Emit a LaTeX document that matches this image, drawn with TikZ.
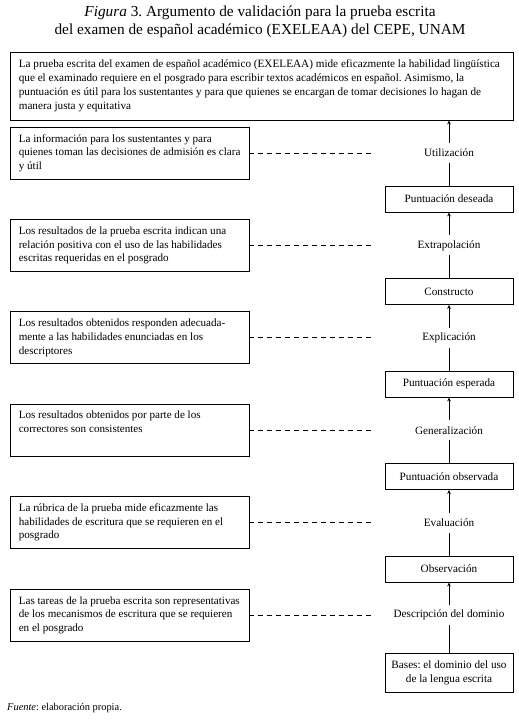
\documentclass[tikz,border=0pt]{standalone}
\usepackage{fontspec}
\setmainfont{Liberation Serif}
\usetikzlibrary{arrows.meta}
\frenchspacing
\tikzset{
  lbox/.style={draw, line width=0.8pt, minimum width=239pt, minimum height=52pt, inner sep=0pt},
  ltext/.style={anchor=west, inner sep=0pt, align=left, font=\fontsize{11.1}{13.6}\selectfont},
  rbox/.style={draw, line width=0.8pt, minimum width=128pt, minimum height=26pt, inner sep=0pt, align=center, font=\fontsize{11.2}{14}\selectfont},
  slabel/.style={fill=white, inner xsep=2pt, inner ysep=0pt, minimum height=20pt, font=\fontsize{11.2}{13}\selectfont},
  arr/.style={line width=0.8pt, -{Stealth[length=4pt,width=3.6pt]}},
  dline/.style={line width=0.8pt, dash pattern=on 5pt off 4pt}
}
\begin{document}
\begin{tikzpicture}[x=1pt,y=-1pt]
\useasboundingbox (0,0) rectangle (519,721);
% title
\node[align=center, font=\fontsize{15.3}{17.5}\selectfont] (title) at (260,22)
  {\textit{Figura} 3. Argumento de validación para la prueba escrita\\del examen de español académico (EXELEAA) del CEPE, UNAM};
% top box
\node[draw, line width=0.8pt, minimum width=503pt, minimum height=68pt, inner sep=0pt] (top) at (261.5,86) {};
\node[ltext, font=\fontsize{11.2}{14}\selectfont] (toptext) at ([xshift=9pt]top.west)
  {La prueba escrita del examen de español académico (EXELEAA) mide eficazmente la habilidad lingüística\\
   que el examinado requiere en el posgrado para escribir textos académicos en español. Asimismo, la\\
   puntuación es útil para los sustentantes y para que quienes se encargan de tomar decisiones lo hagan de\\
   manera justa y equitativa};
% left boxes
\node[lbox] (b1) at (129.5,153) {};
\node[lbox] (b2) at (129.5,245.4) {};
\node[lbox] (b3) at (129.5,337.8) {};
\node[lbox] (b4) at (129.5,430.2) {};
\node[lbox] (b5) at (129.5,522.6) {};
\node[lbox] (b6) at (129.5,615) {};
\node[ltext] (t1) at ([xshift=9pt]b1.west) {La información para los sustentantes y para\\quienes toman las decisiones de admisión es clara\\y útil};
\node[ltext] (t2) at ([xshift=9pt]b2.west) {Los resultados de la prueba escrita indican una\\relación positiva con el uso de las habilidades\\escritas requeridas en el posgrado};
\node[ltext] (t3) at ([xshift=9pt]b3.west) {Los resultados obtenidos responden adecuada-\\mente a las habilidades enunciadas en los\\descriptores};
\node[ltext] (t4) at ([xshift=9pt]b4.west) {Los resultados obtenidos por parte de los\\correctores son consistentes\\\strut};
\node[ltext] (t5) at ([xshift=9pt]b5.west) {La rúbrica de la prueba mide eficazmente las\\habilidades de escritura que se requieren en el\\posgrado};
\node[ltext] (t6) at ([xshift=9pt]b6.west) {Las tareas de la prueba escrita son representativas\\de los mecanismos de escritura que se requieren\\en el posgrado};
% right boxes
\node[rbox] (pdes) at (449,199) {Puntuación deseada};
\node[rbox] (cons) at (449,291.5) {Constructo};
\node[rbox] (pesp) at (449,384) {Puntuación esperada};
\node[rbox] (pobs) at (449,476.5) {Puntuación observada};
\node[rbox] (obs) at (449,569) {Observación};
\node[rbox, minimum height=39pt] (bases) at (449,672.5) {Bases: el dominio del uso\\de la lengua escrita};
% arrows
\draw[arr] (pdes.north) -- (pdes.north |- top.south);
\draw[arr] (cons.north) -- (pdes.south);
\draw[arr] (pesp.north) -- (cons.south);
\draw[arr] (pobs.north) -- (pesp.south);
\draw[arr] (obs.north) -- (pobs.south);
\draw[arr] (bases.north) -- (obs.south);
% labels
\node[slabel] (l1) at (449,153) {Utilización};
\node[slabel] (l2) at (449,245.4) {Extrapolación};
\node[slabel] (l3) at (449,337.8) {Explicación};
\node[slabel] (l4) at (449,430.2) {Generalización};
\node[slabel] (l5) at (449,522.6) {Evaluación};
\node[slabel] (l6) at (449,615) {Descripción del dominio};
% dashed connectors
\foreach \i in {1,...,6} {
  \coordinate (d\i) at (373, 0 |- b\i.east);
  \draw[dline] (b\i.east) -- (d\i);
}
% source
\node[anchor=west, inner sep=0pt, font=\fontsize{10.4}{12}\selectfont] (src) at (7,708) {\textit{Fuente}: elaboración propia.};
\end{tikzpicture}
\end{document}
